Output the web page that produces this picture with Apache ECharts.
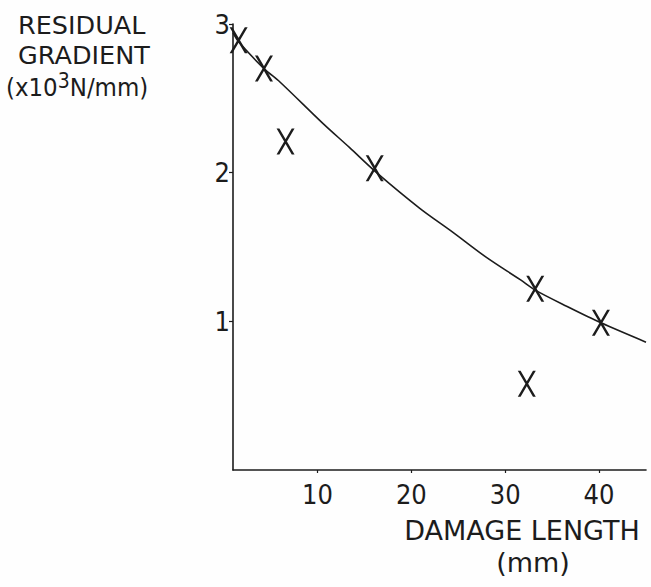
<!DOCTYPE html>
<html>
<head>
<meta charset="utf-8">
<script src="https://cdn.jsdelivr.net/npm/echarts@6/dist/echarts.min.js"></script>
<style>
html,body{margin:0;padding:0;background:#fefefe;}
#chart{width:651px;height:587px;}
</style>
</head>
<body>
<div id="chart"></div>
<script>
// Tick labels
const xTicks = [10, 20, 30, 40];
const yTicks = [1, 2, 3];
// Measured points (crosses)
const crossX = [1.6, 4.3, 6.6, 16.1, 33.2, 40.2, 32.3];
const crossY = [2.89, 2.70, 2.21, 2.03, 1.22, 0.99, 0.58];
// Fitted curve
const curveX = [1.0, 1.6, 4.3, 6.0, 10.6, 13.4, 16.3, 20.9, 24.4, 28.0, 31.6, 33.2, 36.6, 40.2, 45.0];
const curveY = [2.94, 2.88, 2.70, 2.61, 2.33, 2.17, 2.00, 1.76, 1.60, 1.43, 1.28, 1.21, 1.10, 0.99, 0.86];

const FONT = '"DejaVu Sans", sans-serif';
const COND = '"DejaVu Sans Condensed", "DejaVu Sans", sans-serif';
const INK = '#1c1c1c';

const chart = echarts.init(document.getElementById('chart'), null, {renderer: 'svg'});
const crossPath = 'path://M0,0 L2.8,0 L18,26 L15.2,26 Z M15.2,0 L18,0 L2.8,26 L0,26 Z';

chart.setOption({
  backgroundColor: '#fefefe',
  animation: false,
  grid: {left: 233, right: 5, top: 24, bottom: 117, containLabel: false},
  xAxis: {
    type: 'value', min: 1, max: 45,
    axisLine: {lineStyle: {color: INK, width: 1.6}},
    axisTick: {show: true, customValues: xTicks, length: 3, lineStyle: {color: INK, width: 1.2}},
    axisLabel: {customValues: xTicks, color: INK, fontFamily: COND, fontSize: 27, margin: 11},
    splitLine: {show: false}
  },
  yAxis: {
    type: 'value', min: 0, max: 3,
    axisLine: {show: true, lineStyle: {color: INK, width: 1.6}},
    axisTick: {show: true, customValues: yTicks, length: 4, lineStyle: {color: INK, width: 1.2}},
    axisLabel: {customValues: yTicks, color: INK, fontFamily: COND, fontSize: 27, margin: 3},
    splitLine: {show: false}
  },
  graphic: [
    {type: 'text', left: 6, top: 12, style: {
      text: '{i|RESIDUAL}\n{i|GRADIENT}\n{n|(x10}{s|3}{n|N/mm)}', fill: INK,
      rich: {
        i: {fontFamily: FONT, fontSize: 25.5, lineHeight: 30, padding: [0, 0, 0, 12], fill: INK},
        n: {fontFamily: COND, fontSize: 25.5, lineHeight: 30, verticalAlign: 'bottom', fill: INK},
        s: {fontFamily: COND, fontSize: 21, lineHeight: 16, verticalAlign: 'top', fill: INK}
      }
    }},
    {type: 'text', x: 522, y: 514, style: {
      text: '{a|DAMAGE LENGTH}\n{b|(mm)}', fill: INK, align: 'center',
      rich: {
        a: {fontFamily: FONT, fontSize: 27, lineHeight: 32, fill: INK},
        b: {fontFamily: FONT, fontSize: 27, lineHeight: 32, padding: [0, 0, 0, 22], fill: INK}
      }
    }}
  ],
  series: [
    {
      type: 'line', data: curveX.map((x, i) => [x, curveY[i]]),
      smooth: 0.3, showSymbol: false, symbol: 'none',
      lineStyle: {color: INK, width: 1.6}
    },
    {
      type: 'scatter', data: crossX.map((x, i) => [x, crossY[i]]),
      symbol: crossPath, symbolSize: [18, 26],
      itemStyle: {color: INK, opacity: 1}
    }
  ]
});
</script>
</body>
</html>
